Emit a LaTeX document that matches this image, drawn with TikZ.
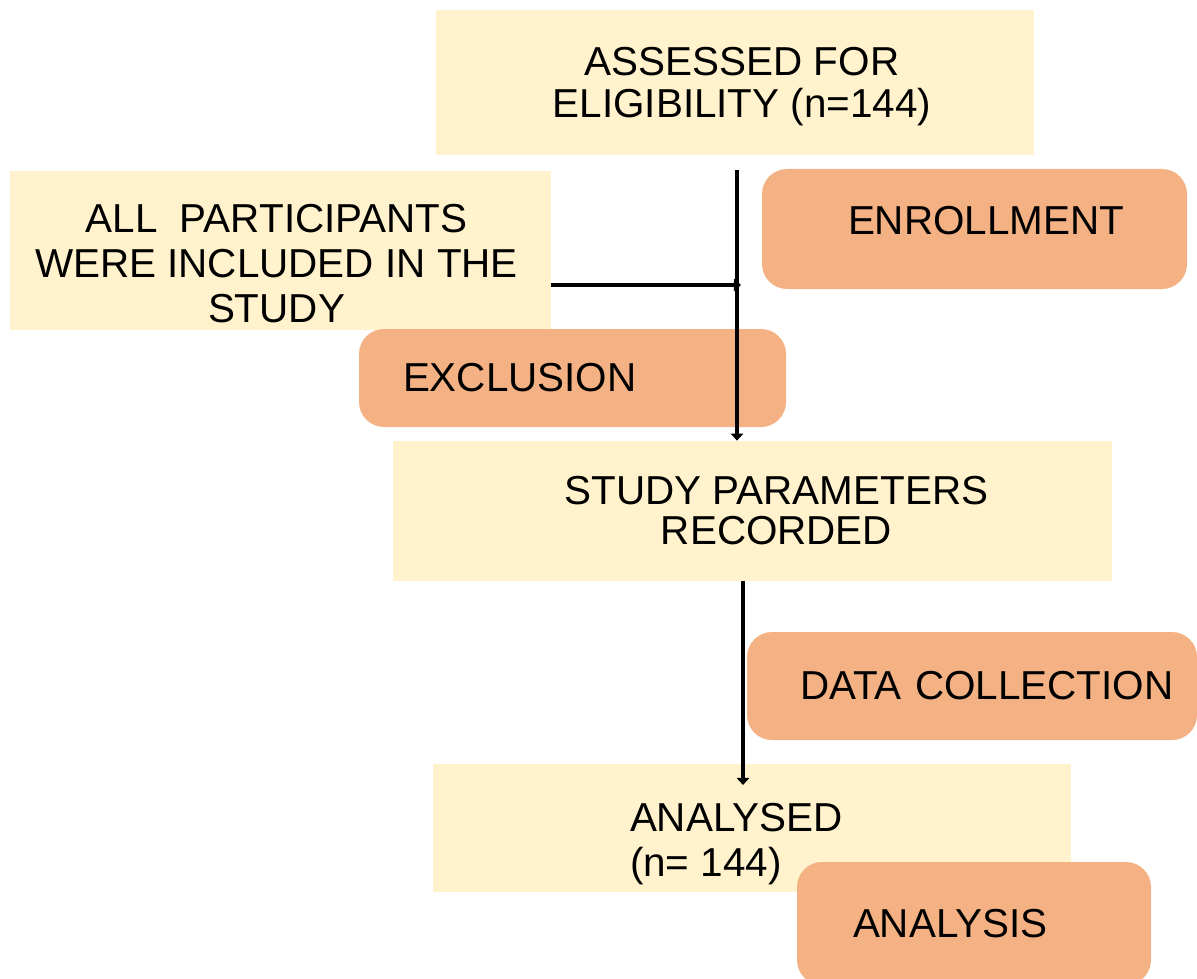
\documentclass[tikz,border=0pt]{standalone}
\usepackage{fontspec}
\setmainfont{Liberation Sans}
\usepackage{tikz}
\usetikzlibrary{arrows.meta, positioning, calc}

\definecolor{paleyellow}{HTML}{FFF2CC}
\definecolor{salmon}{HTML}{F4B183}

\begin{document}
\begin{tikzpicture}[
        % styles
        >={Triangle[length=4pt,width=7pt]},
        font=\fontsize{23}{25.6}\selectfont,
        stage/.style={
            rectangle, fill=paleyellow, inner sep=0pt
        },
        stagetext/.style={
            inner sep=0pt, align=center
        },
        phase/.style={
            rectangle, rounded corners=0.5cm, fill=salmon, inner ysep=0pt,
            align=left
        },
        arrow/.style={->, line width=2.8pt, color=black}
    ]

    % frame of the picture
    \useasboundingbox (0,0) rectangle (23.94,-19.58);
    \clip (0,0) rectangle (23.94,-19.58);

    % 1. main boxes
    \node (assessed) [stage, minimum width=11.96cm, minimum height=2.9cm] at (14.70,-1.65) {};
    \node (included) [stage, minimum width=10.82cm, minimum height=3.18cm] at (5.61,-5.01) {};
    \node (study) [stage, minimum width=14.38cm, minimum height=2.8cm] at (15.05,-10.22) {};
    \node (analysed) [stage, minimum width=12.76cm, minimum height=2.56cm] at (15.04,-16.56) {};

    % texts of the main boxes
    \node (assessed text) [stagetext, font=\fontsize{23}{24.2}\selectfont]
        at ($(assessed)+(0.14,-0.08)$) {ASSESSED FOR\\ELIGIBILITY (n=144)};
    \node (included text) [stagetext] at ($(included)+(-0.08,-0.26)$)
        {ALL \ PARTICIPANTS\\WERE INCLUDED IN THE\\STUDY};
    \node (study text) [stagetext, font=\fontsize{23}{22.8}\selectfont]
        at ($(study)+(0.48,0)$) {STUDY PARAMETERS\\RECORDED};
    \node (analysed text) [stagetext, align=left, anchor=west]
        at ($(analysed.west)+(3.94,-0.32)$) {ANALYSED\\(n= 144)};

    % 2. phase labels (rounded)
    \node (enroll) [phase, minimum height=2.4cm, inner xsep=1.72cm, text width=5.06cm,
        text depth=0.36cm] at (19.49,-4.58) {\mbox{ENROLLMENT}};
    \node (exclude) [phase, minimum height=1.96cm, inner xsep=0.88cm, text width=6.78cm]
        at (11.45,-7.56) {EXCLUSION};
    \node (collect) [phase, minimum height=2.16cm, inner xsep=1.06cm, text width=6.88cm]
        at (19.44,-13.72) {\mbox{DATA COLLECTION}};
    \node (analysis) [phase, minimum height=2.46cm, inner xsep=1.12cm, text width=4.84cm]
        at (19.48,-18.47) {ANALYSIS};

    % 3. connectors
    \coordinate (start) at (14.74,-3.4);
    \coordinate (join) at (14.82,-5.7);
    \coordinate (lower) at (14.86,-11.62);
    \coordinate (end) at (14.86,-15.7);
    \draw[arrow] (start) -- (start |- study.north);
    \draw[arrow] (included.east |- join) -- (join);
    \draw[arrow] (lower) -- (end);

\end{tikzpicture}
\end{document}
